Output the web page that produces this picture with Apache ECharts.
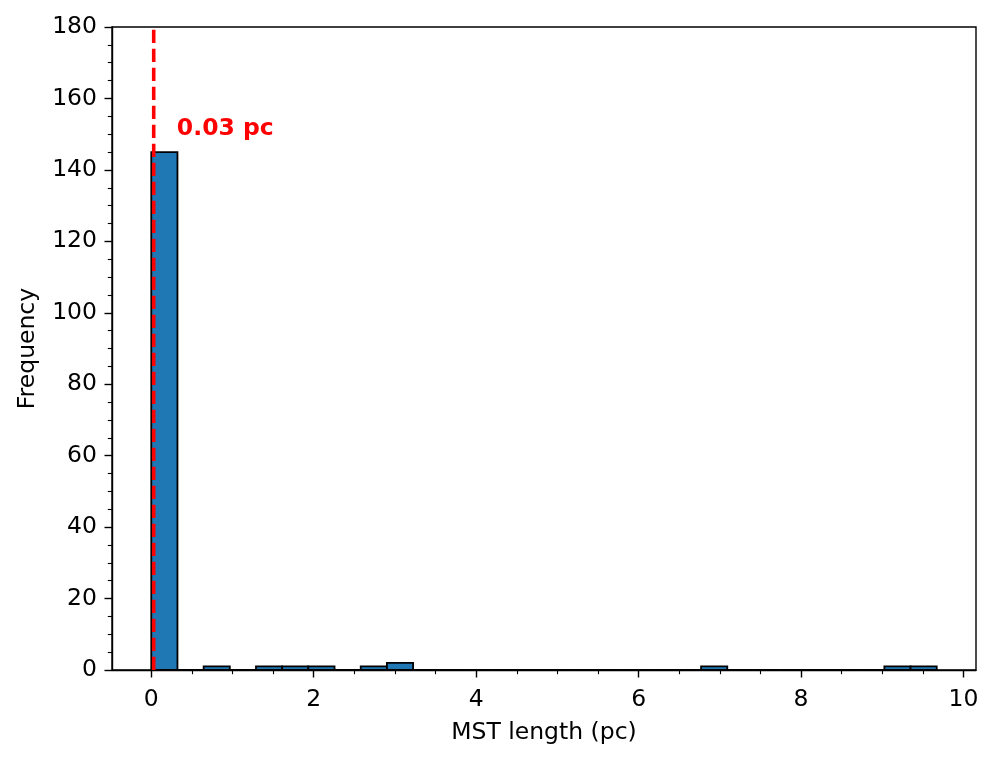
<!DOCTYPE html>
<html>
<head>
<meta charset="utf-8">
<script src="https://cdn.jsdelivr.net/npm/echarts@6/dist/echarts.min.js"></script>
<style>html,body{margin:0;padding:0;background:#fff;}#c{width:997px;height:761px;}</style>
</head>
<body>
<div id="c"></div>
<script>
// Histogram: 30 bins between the data minimum and maximum
const binLow = 0.0;
const binHigh = 9.67;
const counts = [145,0,1,0,1,1,1,0,1,2,0,0,0,0,0,0,0,0,0,0,0,1,0,0,0,0,0,0,1,1];
const xMajorTicks = [0,2,4,6,8,10];
const xMinorTicks = [0.5,1,1.5,2.5,3,3.5,4.5,5,5.5,6.5,7,7.5,8.5,9,9.5];
const medianValue = 0.03;
const medianLabel = '0.03 pc';
const labelPos = [0.315, 151.4];
const xAxisName = 'MST length (pc)';
const yAxisName = 'Frequency';

const nb = counts.length;
const w = (binHigh - binLow) / nb;
const bins = counts.map((c, i) => [binLow + i * w, binLow + (i + 1) * w, c]);
const span = binHigh - binLow;
const xMin = binLow - 0.05 * span, xMax = binHigh + 0.05 * span;

const font = 'DejaVu Sans';
const fs = 23.5;
const chart = echarts.init(document.getElementById('c'), null, {renderer: 'canvas'});
chart.setOption({
  animation: false,
  backgroundColor: '#fff',
  grid: {left: 112, right: 21, top: 27, bottom: 91, show: true, borderColor: '#000', borderWidth: 1.4, backgroundColor: 'transparent'},
  xAxis: [{
    type: 'value', min: xMin, max: xMax, position: 'bottom',
    name: xAxisName, nameLocation: 'middle', nameGap: 51,
    nameTextStyle: {fontFamily: font, fontSize: fs, color: '#000'},
    axisLine: {show: true, onZero: false, lineStyle: {color: '#000', width: 1.4}},
    axisTick: {show: true, customValues: xMajorTicks, length: 7.5, lineStyle: {color: '#000', width: 1.4}},
    axisLabel: {show: true, customValues: xMajorTicks, margin: 18, fontFamily: font, fontSize: fs, color: '#000'},
    splitLine: {show: false}
  }, {
    type: 'value', min: xMin, max: xMax, position: 'bottom',
    axisLine: {show: false, onZero: false},
    axisTick: {show: true, customValues: xMinorTicks, length: 4.2, lineStyle: {color: '#000', width: 1.1}},
    axisLabel: {show: false},
    splitLine: {show: false}
  }],
  yAxis: {
    type: 'value', min: 0, max: 180, interval: 20,
    name: yAxisName, nameLocation: 'middle', nameGap: 72,
    nameTextStyle: {fontFamily: font, fontSize: fs, color: '#000'},
    axisLine: {show: true, onZero: false, lineStyle: {color: '#000', width: 1.4}},
    axisTick: {show: true, length: 7.5, lineStyle: {color: '#000', width: 1.4}},
    minorTick: {show: true, splitNumber: 4, length: 4.2, lineStyle: {color: '#000', width: 1.1}},
    axisLabel: {margin: 15, fontFamily: font, fontSize: fs, color: '#000'},
    splitLine: {show: false},
    minorSplitLine: {show: false}
  },
  series: [{
    type: 'custom',
    data: bins,
    encode: {x: [0, 1], y: 2},
    renderItem: function (params, api) {
      const p0 = api.coord([api.value(0), api.value(2)]);
      const p1 = api.coord([api.value(1), 0]);
      return {
        type: 'rect',
        shape: {x: p0[0], y: p0[1], width: p1[0] - p0[0], height: p1[1] - p0[1]},
        style: {fill: '#1f77b4', stroke: '#000', lineWidth: 1.8}
      };
    },
    z: 2
  }, {
    type: 'line',
    data: [[medianValue, 0], [medianValue, 180]],
    symbol: 'none',
    silent: true,
    lineStyle: {color: '#ff0000', width: 3.6, type: [13.3, 5.7]},
    z: 3
  }, {
    type: 'scatter',
    symbolSize: 0,
    silent: true,
    itemStyle: {opacity: 1},
    data: [labelPos],
    label: {show: true, position: 'right', distance: 0, formatter: medianLabel,
      fontFamily: font, fontSize: 23.5, fontWeight: 'bold', color: '#ff0000', opacity: 1},
    z: 4
  }]
});
</script>
</body>
</html>
